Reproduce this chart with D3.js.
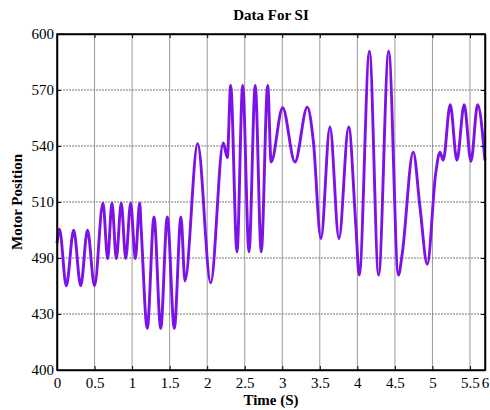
<!DOCTYPE html>
<meta charset="utf-8">
<script src="https://d3js.org/d3.v7.min.js"></script>
<style>
  body { margin: 0; background: #fff; }
  text { font-family: "Liberation Serif", "Times New Roman", serif; }
</style>
<div id="my_dataviz"></div>
<script>
// time (s) of each turning point of the trace
var times = [0, 0.033, 0.124, 0.222, 0.316, 0.406, 0.5, 0.612, 0.675, 0.732, 0.79, 0.856, 0.915, 0.981, 1.043, 1.101,
  1.122, 1.202, 1.292, 1.381, 1.469, 1.562, 1.651, 1.704, 1.873, 2.047, 2.214, 2.268, 2.313, 2.397, 2.473, 2.557,
  2.64, 2.72, 2.806, 2.852, 3.005, 3.169, 3.333, 3.413, 3.515, 3.635, 3.755, 3.884, 3.981, 4.025, 4.161, 4.283,
  4.417, 4.547, 4.598, 4.744, 4.834, 4.931, 5.043, 5.1, 5.143, 5.237, 5.326, 5.423, 5.513, 5.602, 5.699];
// motor position at those times
var positions = [475.5, 483.8, 450.1, 483.2, 450.1, 483.2, 450.1, 499.4, 466.4, 499.4, 466.4, 499.4, 466.4, 499.4, 466.4, 499.4,
  483.2, 424.8, 491.1, 424.8, 491.1, 424.8, 491.1, 453.1, 534.7, 451.9, 535.1, 526.4, 569.4, 470.3, 569.4, 470.3,
  569.4, 470.3, 569.4, 523.8, 556.1, 523.8, 556.5, 536.7, 478.3, 544.6, 478.3, 544.6, 485.2, 456.5, 589.8, 456.5,
  589.8, 456.5, 469.4, 529.7, 497, 463, 516.9, 529.7, 524.8, 557.9, 524.8, 557.9, 524.2, 557.9, 524.8];

var xTicks = [0, 0.5, 1, 1.5, 2, 2.5, 3, 3.5, 4, 4.5, 5, 5.5, 5.7];
var xTickLabels = ["0", "0.5", "1", "1.5", "2", "2.5", "3", "3.5", "4", "4.5", "5", "5.5", "6"];
var yTickLabels = ["400", "430", "490", "510", "540", "570", "600"];

var data = times.map(function(t, i) { return {t: t, v: positions[i]}; });

var margin = {top: 34, right: 5, bottom: 40, left: 57},
  width = 490 - margin.left - margin.right,
  height = 410 - margin.top - margin.bottom;

var svg = d3.select("#my_dataviz")
  .append("svg")
    .attr("width", 490)
    .attr("height", 410);
var g = svg.append("g")
    .attr("transform", "translate(" + margin.left + "," + margin.top + ")");

var x = d3.scaleLinear().domain([0, 5.7]).range([0, width]);
var y = d3.scaleLinear().domain([400, 600]).range([height, 0]);
var yTicks = d3.range(7).map(function(i) { return 400 + i * 200 / 6; });

// grid
g.selectAll(".vgrid").data(xTicks.slice(1, -1)).enter().append("line")
  .attr("x1", function(d) { return x(d); }).attr("x2", function(d) { return x(d); })
  .attr("y1", 0).attr("y2", height)
  .attr("stroke", "#999").attr("stroke-width", 1);
g.selectAll(".hgrid").data(yTicks.slice(1, -1)).enter().append("line")
  .attr("y1", function(d) { return y(d); }).attr("y2", function(d) { return y(d); })
  .attr("x1", 0).attr("x2", width)
  .attr("stroke", "#7a7a7a").attr("stroke-width", 1).attr("stroke-dasharray", "2,1");

// trace
var line = d3.line()
  .x(function(d) { return x(d.t); })
  .y(function(d) { return y(d.v); })
  .curve(d3.curveMonotoneX);
g.append("path").datum(data)
  .attr("d", line)
  .attr("fill", "none")
  .attr("stroke", "#7d12e8")
  .attr("stroke-width", 2.9)
  .attr("stroke-linejoin", "round");

// axes, ticks pointing inward
g.append("g").attr("transform", "translate(0," + height + ")")
  .call(d3.axisBottom(x).tickValues(xTicks).tickSizeInner(-4).tickSizeOuter(0).tickPadding(7)
    .tickFormat(function(d, i) { return xTickLabels[i]; }));
g.append("g").call(d3.axisTop(x).tickValues(xTicks).tickSizeInner(-4).tickSizeOuter(0).tickFormat(""));
g.append("g")
  .call(d3.axisLeft(y).tickValues(yTicks).tickSizeInner(-4).tickSizeOuter(0).tickPadding(3)
    .tickFormat(function(d, i) { return yTickLabels[i]; }));
g.append("g").attr("transform", "translate(" + width + ",0)")
  .call(d3.axisRight(y).tickValues(yTicks).tickSizeInner(-4).tickSizeOuter(0).tickFormat(""));

g.selectAll(".domain").attr("stroke", "#000").attr("stroke-width", 1.5);
g.selectAll(".tick line").attr("stroke", "#000");
g.selectAll(".tick text")
  .attr("font-family", "Liberation Serif, Times New Roman, serif")
  .attr("font-size", 15).attr("fill", "#000");

g.append("rect").attr("width", width).attr("height", height)
  .attr("fill", "none").attr("stroke", "#000").attr("stroke-width", 1.5);

// title and labels
svg.append("text").attr("x", 271).attr("y", 20)
  .attr("text-anchor", "middle").attr("font-weight", "bold").attr("font-size", 15)
  .text("Data For SI");
svg.append("text").attr("x", 271).attr("y", 405)
  .attr("text-anchor", "middle").attr("font-weight", "bold").attr("font-size", 15)
  .text("Time (S)");
svg.append("text")
  .attr("transform", "translate(22," + (margin.top + height / 2) + ") rotate(-90)")
  .attr("text-anchor", "middle").attr("font-weight", "bold").attr("font-size", 15)
  .text("Motor Position");
</script>
